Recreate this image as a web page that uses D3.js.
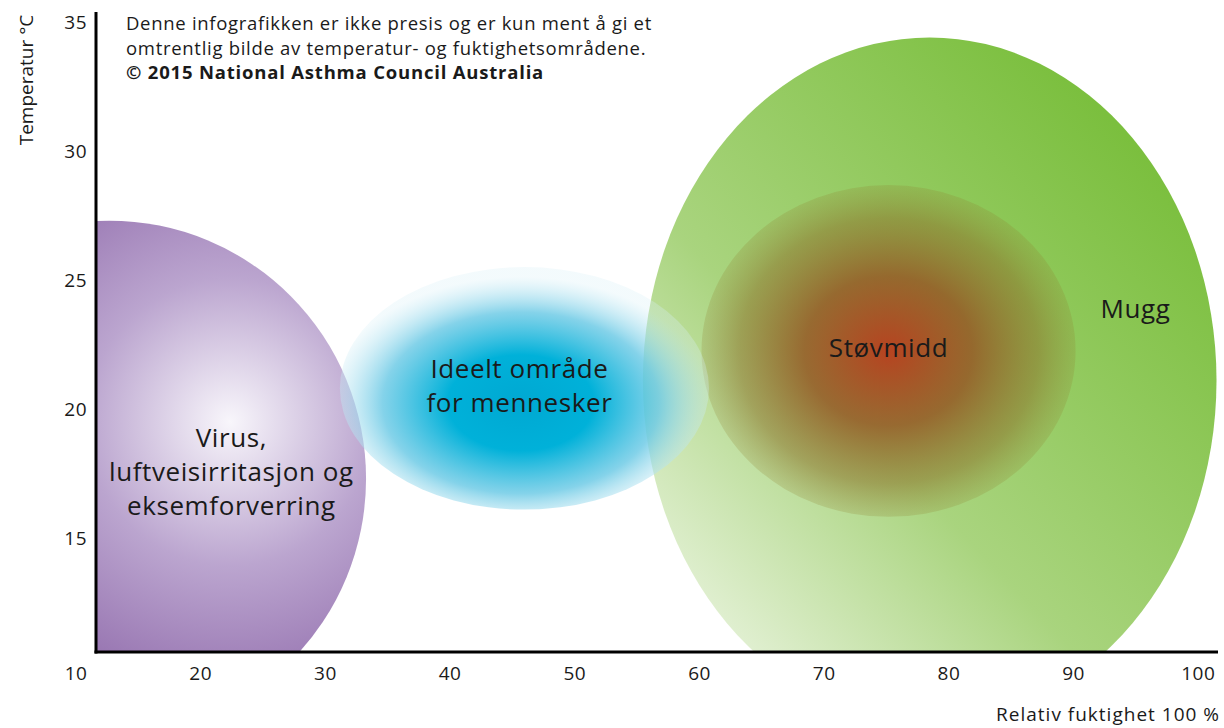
<!DOCTYPE html>
<html lang="no">
<head>
  <meta charset="UTF-8" />
  <script src="https://d3js.org/d3.v7.min.js"></script>
  <style>
    body { margin: 0; background: #fff; }
    text { font-family: "Open Sans", "Noto Sans", sans-serif; fill: #1a1a1a; }
    .tick text { font-size: 19px; letter-spacing: 0.5px; }
  </style>
</head>
<body>
  <svg id="chart" width="1224" height="728"></svg>
  <script>
    // zones: centre (humidity %, temperature C) and half-width / half-height in axis units
    const zoneNames = ["Mugg", "Støvmidd", "Virus", "Ideelt"];
    const zoneCx = [78.5, 75.2, 12.7, 46.0];
    const zoneCy = [21.1, 22.25, 17.3, 20.8];
    const zoneRx = [23.0, 15.0, 20.6, 14.8];
    const zoneRy = [13.3, 6.43, 10.0, 4.7];
    const zoneLabels = [
      ["Mugg"],
      ["Støvmidd"],
      ["Virus,", "luftveisirritasjon og", "eksemforverring"],
      ["Ideelt område", "for mennesker"]
    ];
    const labelX = [95.0, 75.2, 22.5, 45.6];
    const labelY = [23.88, 22.36, 17.56, 20.9];

    const xTicks = [10, 20, 30, 40, 50, 60, 70, 80, 90, 100];
    const yTicks = [15, 20, 25, 30, 35];

    const noteLines = [
      "Denne infografikken er ikke presis og er kun ment å gi et",
      "omtrentlig bilde av temperatur- og fuktighetsområdene.",
      "© 2015 National Asthma Council Australia"
    ];

    const svg = d3.select("#chart");
    const x = d3.scaleLinear().domain([10, 100]).range([75.5, 1197.8]);
    const y = d3.scaleLinear().domain([10, 35]).range([667, 22]);
    const axisLeftX = 96, axisBottomY = 652;

    const defs = svg.append("defs");
    defs.append("clipPath").attr("id", "plotclip")
      .append("rect").attr("x", axisLeftX).attr("y", 0)
      .attr("width", 1224 - axisLeftX).attr("height", axisBottomY);

    // gradients
    const green = defs.append("linearGradient").attr("id", "g-mugg")
      .attr("x1", 0.1).attr("y1", 1).attr("x2", 0.85).attr("y2", 0.15);
    green.append("stop").attr("offset", 0).attr("stop-color", "#f4f9ee");
    green.append("stop").attr("offset", 0.45).attr("stop-color", "#a9d47e");
    green.append("stop").attr("offset", 1).attr("stop-color", "#7bbf3e");

    const brown = defs.append("radialGradient").attr("id", "g-stov")
      .attr("cx", 0.5).attr("cy", 0.5).attr("r", 0.5);
    brown.append("stop").attr("offset", 0).attr("stop-color", "#b83c1c").attr("stop-opacity", 0.95);
    brown.append("stop").attr("offset", 0.45).attr("stop-color", "#94501f").attr("stop-opacity", 0.8);
    brown.append("stop").attr("offset", 0.8).attr("stop-color", "#8c6a25").attr("stop-opacity", 0.5);
    brown.append("stop").attr("offset", 1).attr("stop-color", "#8f8030").attr("stop-opacity", 0.22);

    const purple = defs.append("radialGradient").attr("id", "g-virus")
      .attr("cx", 0.735).attr("cy", 0.39).attr("r", 0.62);
    purple.append("stop").attr("offset", 0).attr("stop-color", "#f8f6fb");
    purple.append("stop").attr("offset", 0.45).attr("stop-color", "#bba5cf");
    purple.append("stop").attr("offset", 1).attr("stop-color", "#8a63a6");

    const blue = defs.append("radialGradient").attr("id", "g-ideelt")
      .attr("cx", 0.49).attr("cy", 0.56).attr("r", 0.52);
    blue.append("stop").attr("offset", 0).attr("stop-color", "#00a8d2");
    blue.append("stop").attr("offset", 0.38).attr("stop-color", "#00b1d9");
    blue.append("stop").attr("offset", 0.72).attr("stop-color", "#6fcbe6").attr("stop-opacity", 0.85);
    blue.append("stop").attr("offset", 1).attr("stop-color", "#d8f0f7").attr("stop-opacity", 0.3);

    const fills = ["url(#g-mugg)", "url(#g-stov)", "url(#g-virus)", "url(#g-ideelt)"];

    const zones = zoneNames.map((n, i) => ({
      name: n, cx: zoneCx[i], cy: zoneCy[i], rx: zoneRx[i], ry: zoneRy[i],
      fill: fills[i], lines: zoneLabels[i], lx: labelX[i], ly: labelY[i]
    }));

    const plot = svg.append("g").attr("clip-path", "url(#plotclip)");
    plot.selectAll("ellipse").data(zones).join("ellipse")
      .attr("cx", d => x(d.cx))
      .attr("cy", d => y(d.cy))
      .attr("rx", d => x(d.cx + d.rx) - x(d.cx))
      .attr("ry", d => y(d.cy - d.ry) - y(d.cy))
      .attr("fill", d => d.fill);

    // zone labels
    zones.forEach(d => {
      const t = svg.append("text")
        .attr("text-anchor", "middle")
        .attr("font-size", "26px")
        .attr("letter-spacing", "0.6px")
        .attr("y", y(d.ly) - (d.lines.length - 1) * 17 + 9);
      d.lines.forEach((l, j) => {
        t.append("tspan").attr("x", x(d.lx)).attr("dy", j === 0 ? 0 : 34).text(l);
      });
    });

    // axes
    const xAxis = svg.append("g").attr("transform", `translate(0,${axisBottomY})`)
      .call(d3.axisBottom(x).tickValues(xTicks).tickSize(0).tickPadding(15));
    xAxis.select(".domain").remove();
    const yAxis = svg.append("g").attr("transform", `translate(${axisLeftX},0)`)
      .call(d3.axisLeft(y).tickValues(yTicks).tickSize(0).tickPadding(9));
    yAxis.select(".domain").remove();
    svg.selectAll(".tick text").attr("fill", "#1a1a1a");

    svg.append("line").attr("x1", axisLeftX).attr("x2", axisLeftX)
      .attr("y1", 12).attr("y2", axisBottomY + 1.5)
      .attr("stroke", "#000").attr("stroke-width", 3);
    svg.append("line").attr("x1", axisLeftX - 1.5).attr("x2", 1218)
      .attr("y1", axisBottomY).attr("y2", axisBottomY)
      .attr("stroke", "#000").attr("stroke-width", 3);

    svg.append("text")
      .attr("transform", "translate(33,80) rotate(-90)")
      .attr("text-anchor", "middle")
      .attr("font-size", "19px")
      .text("Temperatur °C");
    svg.append("text")
      .attr("x", 1220).attr("y", 721)
      .attr("text-anchor", "end")
      .attr("font-size", "19px")
      .attr("letter-spacing", "1px")
      .text("Relativ fuktighet 100 %");

    // note
    noteLines.forEach((l, i) => {
      svg.append("text")
        .attr("x", 126).attr("y", 30 + i * 24.5)
        .attr("font-size", "18.5px")
        .attr("letter-spacing", i === 2 ? "0.8px" : "0.7px")
        .attr("font-weight", i === 2 ? "bold" : "normal")
        .text(l);
    });
  </script>
</body>
</html>
